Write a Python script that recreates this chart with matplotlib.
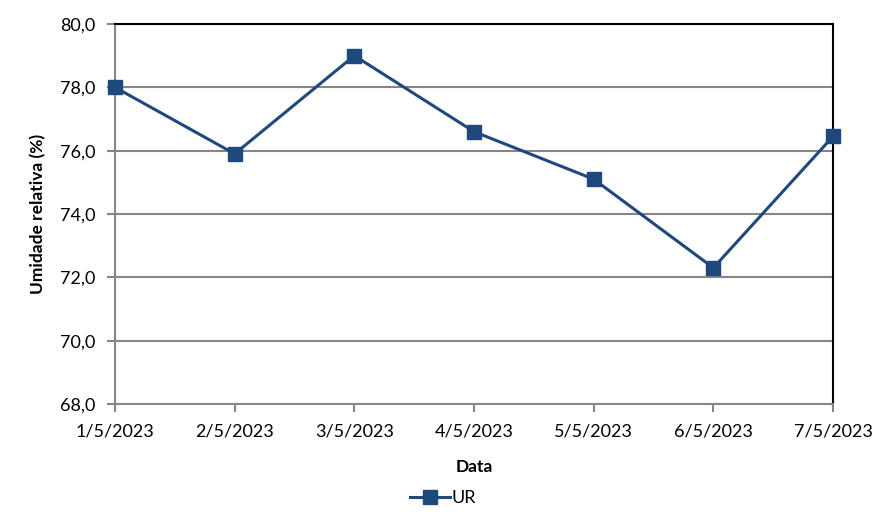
import matplotlib.pyplot as plt
import numpy as np

plt.rcParams['font.family'] = ['Lato', 'DejaVu Sans']

# Data
dates = ["1/5/2023", "2/5/2023", "3/5/2023", "4/5/2023", "5/5/2023", "6/5/2023", "7/5/2023"]
ur = [78.0, 75.9, 79.0, 76.6, 75.1, 72.3, 76.45]
yticks = [68, 70, 72, 74, 76, 78, 80]

color = '#1F497D'
gray = '#868686'

fig = plt.figure(figsize=(8.86, 5.31), dpi=100)
ax = fig.add_axes([115/886, 1-404/531, (833-115)/886, (404-24)/531])

x = np.arange(len(dates))
ax.plot(x, ur, color=color, lw=2.2, marker='s', markersize=10, label='UR', zorder=3, clip_on=False)

ax.set_xlim(0, len(dates)-1)
ax.set_ylim(68, 80)
ax.set_yticks(yticks)
ax.set_yticklabels([f"{v:.1f}".replace('.', ',') for v in yticks], fontsize=13)
ax.set_xticks(x)
ax.set_xticklabels(dates, fontsize=13)

ax.grid(axis='y', color=gray, lw=1.5, zorder=0)
ax.tick_params(axis='both', color=gray, width=1.5, length=6, pad=8)
for s in ['left', 'bottom']:
    ax.spines[s].set_color(gray)
    ax.spines[s].set_linewidth(1.5)
for s in ['top', 'right']:
    ax.spines[s].set_color('black')
    ax.spines[s].set_linewidth(1.5)

ax.set_xlabel("Data", fontsize=12.5, fontweight='bold', labelpad=14)
ax.set_ylabel("Umidade relativa (%)", fontsize=12.5, fontweight='bold', labelpad=10)

fig.legend(loc='center', bbox_to_anchor=(0.5, 1-498/531), frameon=False, fontsize=13,
           handlelength=2.2, handletextpad=0.1)

fig.savefig("out.png", dpi=100)
